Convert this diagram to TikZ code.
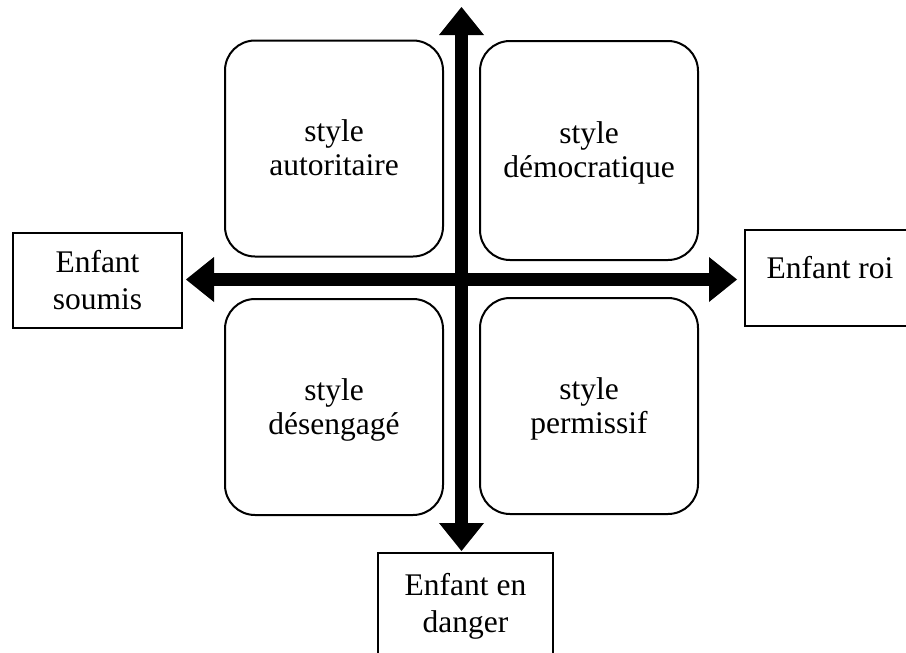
\documentclass[tikz,border=0pt]{standalone}
\usepackage{fontspec}
\setmainfont{Liberation Serif}
\usetikzlibrary{arrows.meta}
\newcommand{\qtext}[2]{\rule{0pt}{27pt}#1\\#2\vphantom{g}}
\begin{document}
\begin{tikzpicture}[x=1pt,y=-1pt,
  quad/.style={draw, line width=2pt, rounded corners=30pt, minimum width=218pt, minimum height=216pt, align=center, font=\fontsize{31.5}{34}\selectfont, inner sep=0pt},
  outbox/.style={draw, line width=2pt, align=center, font=\fontsize{31.5}{37}\selectfont, inner sep=0pt},
  axis/.style={line width=13pt, {Triangle[length=28pt,width=45pt,line width=0pt]}-{Triangle[length=28pt,width=45pt,line width=0pt]}}]
\useasboundingbox (0,0) rectangle (906,653);
\clip (0,0) rectangle (906,653);
\node[quad] (auto) at (334,148.5) {\qtext{style}{autoritaire}};
\node[quad, minimum height=219pt] (demo) at (589,150.5) {\qtext{style}{démocratique}};
\node[quad] (des) at (334,407) {\qtext{style}{désengagé}};
\node[quad] (perm) at (589,406) {\qtext{style}{permissif}};
\node[outbox, minimum width=169pt, minimum height=95pt] (soumis) at (97.5,280.5) {Enfant\\soumis};
\node[outbox, minimum width=170pt, minimum height=96pt, text height=10pt, text depth=10pt] (roi) at (830,278) {Enfant roi};
\node[outbox, minimum width=175pt, minimum height=106pt] (danger) at (465.5,606) {Enfant en\\danger};
\coordinate (N) at (461.5,7);
\coordinate (S) at (461.5,551);
\coordinate (W) at (186,279.5);
\coordinate (E) at (737,279.5);
\draw[axis] (S) -- (N);
\draw[axis] (W) -- (E);
\end{tikzpicture}
\end{document}
